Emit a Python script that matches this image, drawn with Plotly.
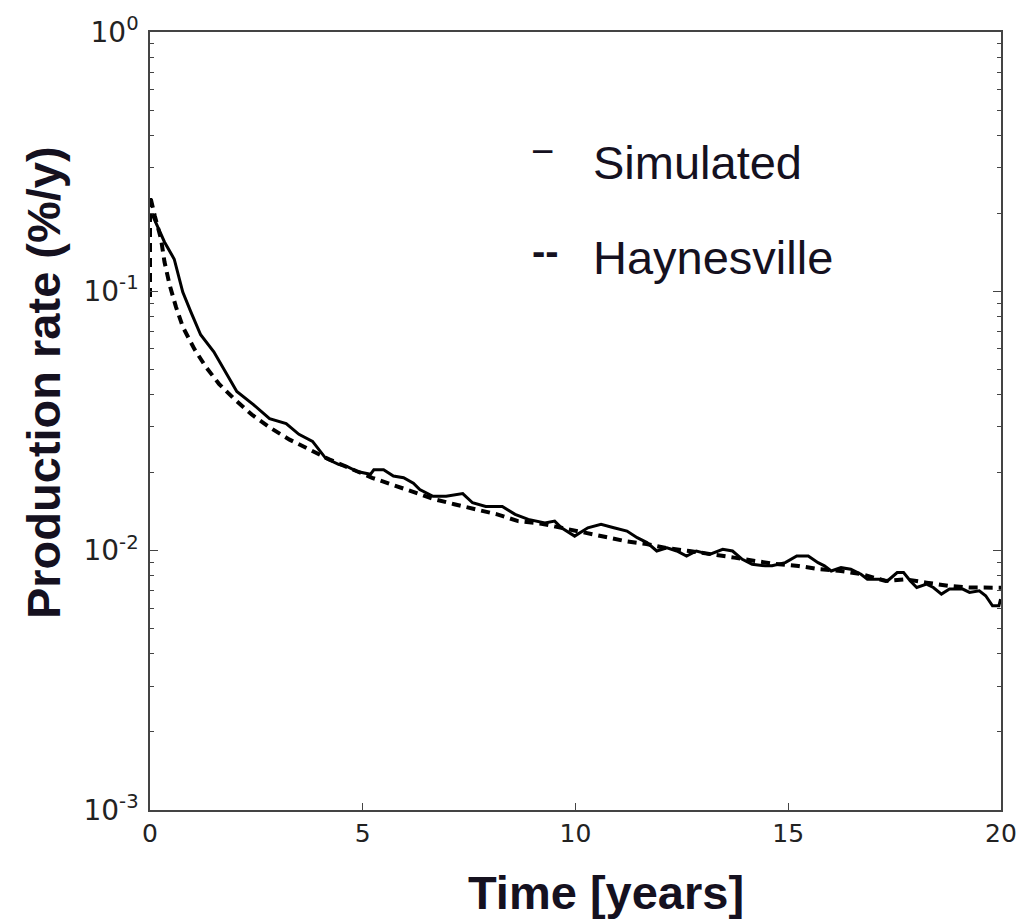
import plotly.graph_objects as go

# Simulated (solid) — time [years], production rate
sim_t = [0.05, 0.23, 0.34, 0.57, 0.77, 0.96, 1.19, 1.50, 1.81, 2.04, 2.43, 2.81, 3.20, 3.50,
         3.82, 4.13, 4.43, 4.64, 4.87, 5.18, 5.26, 5.49, 5.72, 5.96, 6.19, 6.34, 6.65, 6.96,
         7.35, 7.58, 7.89, 8.28, 8.58, 8.89, 9.28, 9.51, 9.67, 9.98, 10.29, 10.60, 10.90,
         11.21, 11.45, 11.68, 11.91, 12.15, 12.38, 12.61, 12.84, 13.15, 13.46, 13.69, 13.92,
         14.15, 14.46, 14.62, 14.93, 15.20, 15.47, 15.70, 15.85, 16.01, 16.24, 16.47, 16.71,
         16.86, 17.17, 17.33, 17.56, 17.71, 17.87, 18.02, 18.25, 18.41, 18.60, 18.79, 19.10,
         19.26, 19.49, 19.64, 19.80, 19.95, 19.99]
sim_v = [0.198, 0.169, 0.155, 0.133, 0.0994, 0.0833, 0.0680, 0.0585, 0.0477, 0.0411, 0.0366,
         0.0323, 0.0309, 0.0281, 0.0264, 0.0227, 0.0215, 0.0211, 0.0202, 0.0197, 0.0205,
         0.0205, 0.0194, 0.0191, 0.0182, 0.0172, 0.0162, 0.0162, 0.0166, 0.0153, 0.0148,
         0.0148, 0.0138, 0.0132, 0.0128, 0.0130, 0.01225, 0.01138, 0.01225, 0.01263, 0.01225,
         0.01190, 0.01122, 0.01074, 0.00997, 0.01026, 0.00997, 0.00954, 0.00997, 0.00968,
         0.01012, 0.00997, 0.00926, 0.00887, 0.00874, 0.00874, 0.00899, 0.00954, 0.00954,
         0.00899, 0.00874, 0.00835, 0.00860, 0.00848, 0.00811, 0.00776, 0.00776, 0.00764,
         0.00823, 0.00823, 0.00764, 0.00721, 0.00743, 0.00721, 0.00680, 0.00711, 0.00711,
         0.00690, 0.00700, 0.00670, 0.00613, 0.00613, 0.00650]

# Haynesville (dashed)
hay_t = [0.0, 0.0, 0.11, 0.26, 0.34, 0.46, 0.61, 0.77, 1.04, 1.31, 1.62, 1.97, 2.39, 2.85,
         3.28, 3.74, 4.21, 5.22, 5.68, 6.15, 6.68, 7.15, 7.70, 8.16, 8.65, 9.20, 9.67,
         10.67, 11.18, 11.67, 12.13, 12.68, 13.23, 13.73, 14.22, 14.69, 15.24, 15.74, 16.24,
         16.74, 17.29, 17.75, 18.25, 18.79, 19.26, 19.76, 20.0]
hay_v = [0.095, 0.234, 0.196, 0.159, 0.130, 0.106, 0.0871, 0.0730, 0.0600, 0.0512, 0.0440,
         0.0386, 0.0335, 0.0296, 0.0268, 0.0246, 0.0225, 0.0191, 0.0180, 0.0170, 0.0158,
         0.0151, 0.0144, 0.0138, 0.0130, 0.0127, 0.01225, 0.01137, 0.01088, 0.01061, 0.01024,
         0.00997, 0.00971, 0.00940, 0.00913, 0.00889, 0.00873, 0.00848, 0.00835, 0.00811,
         0.00764, 0.00776, 0.00753, 0.00731, 0.00721, 0.00717, 0.0072]

x_ticks = [0, 5, 10, 15, 20]
y_ticks = [1e-3, 1e-2, 1e-1, 1e0]
y_tick_text = ["10<sup>-3</sup>", "10<sup>-2</sup>", "10<sup>-1</sup>", "10<sup>0</sup>"]
y_minor = [m * d for d in (1e-3, 1e-2, 1e-1) for m in range(2, 10)]

W, H = 1029, 920
L, R, T, B = 150, 17, 29, 110
pw, ph = W - L - R, H - T - B

def px_x(x):
    return (x - L) / pw

def px_y(y):
    return 1 - (y - T) / ph

fig = go.Figure()
fig.add_trace(go.Scatter(x=sim_t, y=sim_v, mode="lines",
                         line=dict(color="black", width=3), showlegend=False))
fig.add_trace(go.Scatter(x=hay_t, y=hay_v, mode="lines",
                         line=dict(color="black", width=4, dash="9px,6px"), showlegend=False))

fig.update_xaxes(range=[0, 20], tickvals=x_ticks, ticks="inside", ticklen=7,
                 tickcolor="#444444", showline=True, linecolor="#444444", linewidth=1.5,
                 mirror=True, showgrid=False, zeroline=False,
                 tickfont=dict(family="DejaVu Sans", size=25, color="#222222"))
fig.update_yaxes(type="log", range=[-3, 0], tickvals=y_ticks, ticktext=y_tick_text,
                 ticks="inside", ticklen=8, tickcolor="#444444", showline=True,
                 linecolor="#444444", linewidth=1.5, mirror="ticks", showgrid=False,
                 zeroline=False, ticklabelstandoff=4,
                 tickfont=dict(family="DejaVu Sans", size=28, color="#222222"),
                 minor=dict(tickmode="array", tickvals=y_minor, ticks="inside", ticklen=4,
                            tickcolor="#444444", showgrid=False))

ink = "#15111f"
title_font = dict(family="Liberation Sans", size=47, color=ink)
legend_font = dict(family="Liberation Sans", size=47, color=ink)
anns = [
    dict(text="<b>Production rate (%/y)</b>", x=px_x(42), y=px_y(381), textangle=-90,
         font=title_font),
    dict(text="<b>Time [years]</b>", x=px_x(612), y=px_y(893), font=title_font),
    dict(text="\u2212", x=px_x(548), y=px_y(148), font=dict(family="Liberation Sans", size=40, color=ink)),
    dict(text="Simulated", x=px_x(597), y=px_y(160), xanchor="left", font=legend_font),
    dict(text="<b>--</b>", x=px_x(551), y=px_y(249), font=dict(family="Liberation Sans", size=40, color=ink)),
    dict(text="Haynesville", x=px_x(597), y=px_y(255), xanchor="left", font=legend_font),
]
for a in anns:
    a.setdefault("xanchor", "center")
    a.setdefault("yanchor", "middle")
    fig.add_annotation(xref="paper", yref="paper", showarrow=False, **a)

fig.update_layout(width=W, height=H, margin=dict(l=L, r=R, t=T, b=B),
                  plot_bgcolor="white", paper_bgcolor="white", showlegend=False)

fig.write_html("out.html")
